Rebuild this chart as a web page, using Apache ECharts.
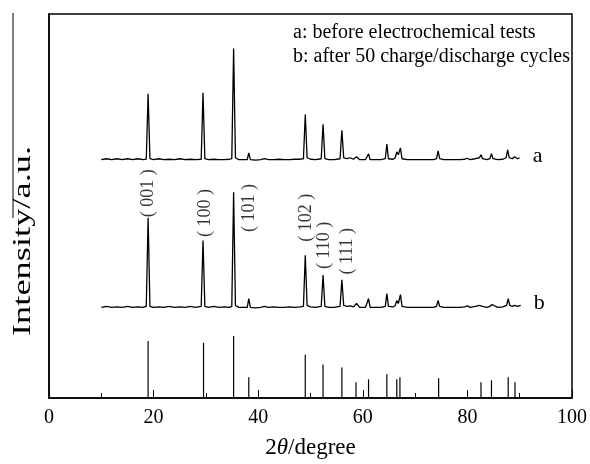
<!DOCTYPE html>
<html>
<head>
<meta charset="utf-8">
<script src="https://cdn.jsdelivr.net/npm/echarts@6/dist/echarts.min.js"></script>
<style>html,body{margin:0;padding:0;background:#fff}#c{width:590px;height:464px}</style>
</head>
<body>
<div id="c"></div>
<script>
// Trace a (before tests): [2theta, intensity above its own baseline]
const traceA = [
[10.0,1],[11,2],[12,1],[13,2],[14,1],[15,2],[16,1],[17,2],[18,1],[18.6,1.5],[18.95,68],[19.3,2],[20,1],[21,2],[22,1],[23,1.5],[24,1],[25,2],[26,1],[27,1.5],[28,1],[29.1,1.5],[29.45,69],[29.8,2],[30.5,1],[31.5,1.5],[32.5,1],[33.5,1],[34.5,1.5],[34.95,2],[35.3,114],[35.65,3],[36.3,1],[37,1],[37.9,1],[38.2,8],[38.5,1],[39.5,0.5],[40.5,1],[41.2,2],[42,1],[43,1],[44,1.5],[45,1],[46,1],[47,1.5],[48,1.5],[48.65,2],[49.0,47],[49.35,3],[50,1.5],[51,1],[52.05,2],[52.4,37],[52.75,2],[53.5,1],[54.5,1],[55.65,2],[56.0,31],[56.35,3],[57,2],[57.6,3],[58.2,1.5],[58.8,4],[59.4,1],[60.5,1],[60.8,1.5],[61.1,7],[61.4,1],[62.5,1],[63.5,1],[64.3,2],[64.6,17],[64.9,2],[65.8,1.5],[66.2,3],[66.5,9],[66.8,6],[67.2,13],[67.5,2],[68.5,1],[69.5,1],[70.5,1],[71.5,1],[72.5,1],[73.5,1],[74.1,2],[74.4,10],[74.7,2],[75.5,1],[76.5,1],[77.5,1],[78.5,1],[79.5,1.5],[80.0,2.5],[80.5,1],[81.5,2],[82.3,3],[82.6,6],[82.9,2],[83.7,1],[84.3,2],[84.6,7],[84.9,2],[85.8,1],[86.8,1.5],[87.4,3],[87.7,11],[88.0,3],[88.6,2],[89.0,4],[89.3,4],[89.6,2],[90.0,3]
];
// Trace b (after 50 cycles)
const traceB = [
[10.0,1],[11,2],[12,1],[13,1.5],[14,1],[15,2],[16,1],[17,1.5],[18,1],[18.6,2],[18.95,92],[19.3,2],[20,1],[21,1.5],[22,1],[23,2],[24,1],[25,1.5],[26,1],[27,2],[28,1],[29.1,2],[29.45,69],[29.8,2],[30.5,1],[31.5,2],[32.5,1],[33.5,1.5],[34.5,1],[34.95,2],[35.3,118],[35.65,3],[36.3,1],[37,1],[37.9,1],[38.2,10],[38.5,1],[39.5,0.5],[40.5,1],[41.2,2],[42,1],[43,1.5],[44,1],[45,1],[46,1.5],[47,1],[48,1.5],[48.65,2],[49.0,54],[49.35,3],[50,1.5],[51,1],[52.05,2],[52.4,34],[52.75,2],[53.5,1],[54.5,1],[55.65,2],[56.0,29],[56.35,3],[57,2],[57.6,2.5],[58.2,1.5],[58.8,5],[59.4,1],[60.5,1],[60.8,1.5],[61.1,10],[61.4,1],[62.5,1],[63.5,1],[64.3,2],[64.6,15],[64.9,2],[65.8,1.5],[66.2,3],[66.5,8],[66.8,5],[67.2,14],[67.5,2],[68.5,1],[69.5,1],[70.5,1],[71.5,1],[72.5,1],[73.5,1],[74.1,2],[74.4,8],[74.7,2],[75.5,1],[76.5,1],[77.5,1],[78.5,1],[79.5,1.5],[80.0,2.5],[80.5,1],[81.5,2],[82.3,3],[82.6,5],[82.9,2],[83.7,1],[84.3,2],[84.7,4],[85.0,2],[85.8,1],[86.8,1.5],[87.5,3],[87.8,10],[88.1,3],[88.6,2],[89.0,3],[89.3,4],[89.6,2],[90.2,3]
];
// Reference stick pattern
const stickPos = [18.95,29.55,35.3,38.2,49.0,52.4,56.0,58.7,61.1,64.6,66.5,67.1,74.5,82.6,84.6,87.8,89.1];
const stickInt = [58,56,63,21,44,34,31,16,19,24,19,21,20,16,18,21,16];
// Peak index labels
const hklText = ['( 001 )','( 100 )','( 101 )','( 102 )','( 110 )','( 111 )'];
const hklX = [19.0, 29.8, 38.2, 49.2, 52.7, 57.1];
const hklY = [208, 188, 193, 183, 155, 149];
const xTicks = [0,20,40,60,80,100];
const legendLines = ['a: before electrochemical tests','b: after 50 charge/discharge cycles'];

const OFFSET_A = 241, OFFSET_B = 91;
const FONT = "'Liberation Serif','Times New Roman',serif";

const chart = echarts.init(document.getElementById('c'), null, {renderer:'canvas'});
const lineSeries = (name, data, off) => ({
  type:'line', name, data: data.map(p => [p[0], p[1] + off]),
  showSymbol:false, symbol:'none', lineStyle:{color:'#000', width:1.3}, silent:true,
  endLabel:{show:true, formatter:name, distance:13, offset:[0,-2], color:'#000', fontSize:22, fontFamily:FONT}
});
chart.setOption({
  animation:false,
  backgroundColor:'#fff',
  grid:{left:49, right:17, top:14, bottom:60, show:true, borderColor:'#000', borderWidth:1.5, containLabel:false},
  xAxis:{type:'value', min:0, max:100, interval:20,
    axisLine:{lineStyle:{color:'#000', width:1.5}},
    axisTick:{inside:true, length:8, lineStyle:{color:'#000', width:1}},
    minorTick:{show:true, splitNumber:2, length:5, lineStyle:{color:'#000', width:1}},
    splitLine:{show:false},
    axisLabel:{color:'#000', fontSize:20, fontFamily:FONT, margin:10,
      formatter: v => xTicks.includes(v) ? String(v) : ''},
    name:'2{i|θ}/degree', nameLocation:'middle', nameGap:38,
    nameTextStyle:{color:'#000', fontSize:23, fontFamily:FONT,
      rich:{i:{fontStyle:'italic', fontSize:23, fontFamily:FONT, color:'#000'}}}
  },
  yAxis:{type:'value', min:0, max:390,
    axisLine:{show:true, lineStyle:{color:'#000', width:1.5}},
    axisTick:{show:false}, axisLabel:{show:false}, splitLine:{show:false}},
  series:[
    lineSeries('a', traceA, OFFSET_A),
    lineSeries('b', traceB, OFFSET_B),
    {type:'custom', data: stickPos.map((x,i)=>[x, stickInt[i]]), silent:true,
     renderItem:(params, api) => {
       const p0 = api.coord([api.value(0), 0]);
       const p1 = api.coord([api.value(0), api.value(1)]);
       return {type:'line', shape:{x1:p0[0], y1:p0[1], x2:p1[0], y2:p1[1]}, style:{stroke:'#000', lineWidth:1.2}};
     }},
    {type:'scatter', symbolSize:0, silent:true,
     data: hklX.map((x,i)=>({value:[x, hklY[i]], label:{formatter: hklText[i]}})),
     label:{show:true, position:'inside', rotate:90, color:'#000', fontSize:18, fontFamily:FONT}}
  ],
  graphic:[
    {type:'text', x:23, y:241, rotation:Math.PI/2, scaleX:1.4,
     style:{text:'Intensity/a.u.', fill:'#000', font:"26px 'Liberation Serif',serif", textAlign:'center', textVerticalAlign:'middle'}},
    {type:'line', shape:{x1:13, y1:13, x2:13, y2:218}, style:{stroke:'#000', lineWidth:1}},
    {type:'text', x:293, y:33, style:{text:legendLines[0], fill:'#000', font:"20px 'Liberation Serif',serif", textVerticalAlign:'middle'}},
    {type:'text', x:293, y:57, style:{text:legendLines[1], fill:'#000', font:"20px 'Liberation Serif',serif", textVerticalAlign:'middle'}}
  ]
});
</script>
</body>
</html>
